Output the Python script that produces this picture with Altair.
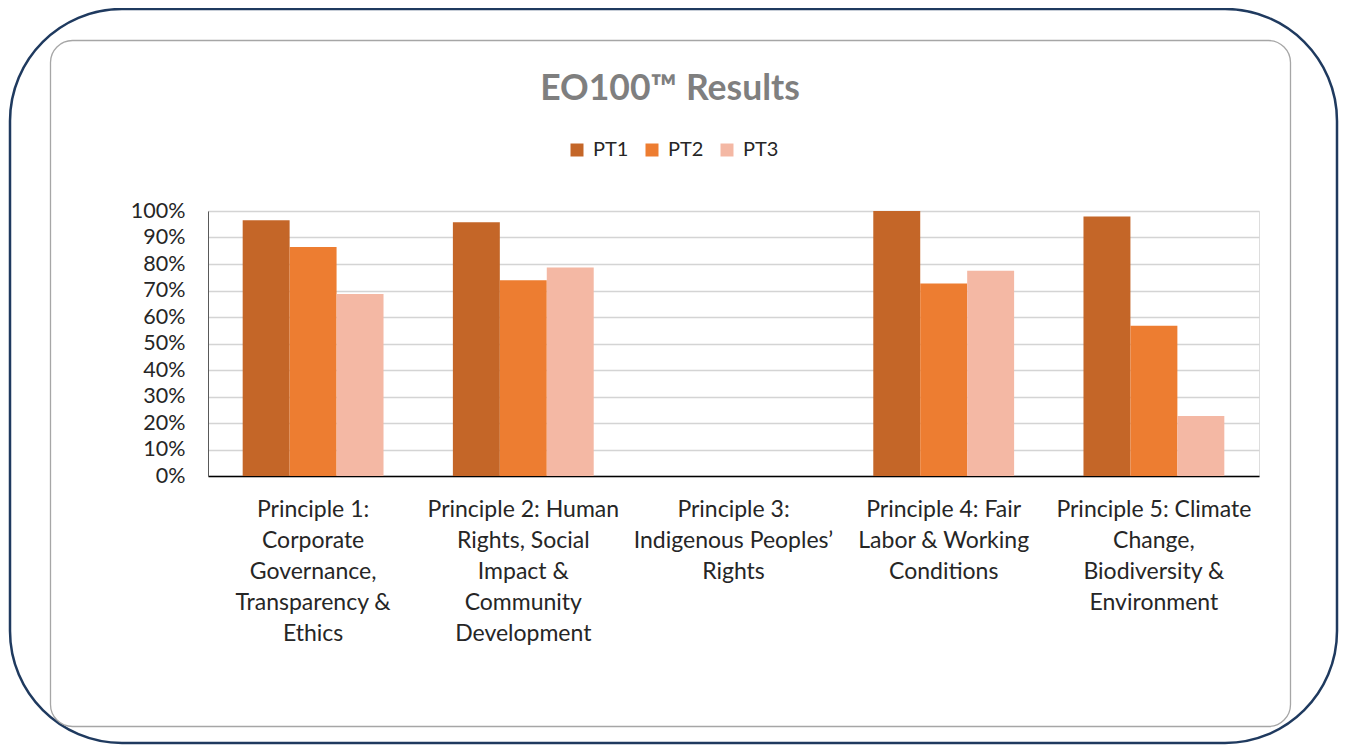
import altair as alt
import pandas as pd

TITLE = "EO100™ Results"
categories = [
    "Principle 1:\nCorporate\nGovernance,\nTransparency &\nEthics",
    "Principle 2: Human\nRights, Social\nImpact &\nCommunity\nDevelopment",
    "Principle 3:\nIndigenous Peoples’\nRights",
    "Principle 4: Fair\nLabor & Working\nConditions",
    "Principle 5: Climate\nChange,\nBiodiversity &\nEnvironment",
]
series = ["PT1", "PT2", "PT3"]
pt1 = [0.965, 0.958, 0.0, 1.000, 0.979]
pt2 = [0.864, 0.739, 0.0, 0.726, 0.567]
pt3 = [0.687, 0.787, 0.0, 0.775, 0.226]
colors = ["#C46628", "#ED7D31", "#F4B8A4"]
y_ticks = [0, 0.1, 0.2, 0.3, 0.4, 0.5, 0.6, 0.7, 0.8, 0.9, 1.0]

rows = []
for s, vals in zip(series, [pt1, pt2, pt3]):
    for c, v in zip(categories, vals):
        rows.append({"category": c, "series": s, "value": v})
df = pd.DataFrame(rows)

FONT = "Lato"

one = pd.DataFrame({"k": [0]})

outer = alt.Chart(one).mark_rect(
    filled=False, stroke="#1F3A5F", strokeWidth=2.5, cornerRadius=112
).encode(x=alt.value(-198), x2=alt.value(1129), y=alt.value(-202), y2=alt.value(532))

inner = alt.Chart(one).mark_rect(
    filled=False, stroke="#A6A6A6", strokeWidth=1.3, cornerRadius=22
).encode(x=alt.value(-157.5), x2=alt.value(1082.5), y=alt.value(-170.5), y2=alt.value(515.5))

title = alt.Chart(one).mark_text(
    font=FONT, fontSize=35.5, fontWeight="bold", color="#7F7F7F",
    align="center", baseline="alphabetic"
).encode(x=alt.value(462), y=alt.value(-111), text=alt.value(TITLE))

bars = alt.Chart(df).mark_bar().encode(
    x=alt.X(
        "category:N",
        sort=categories,
        scale=alt.Scale(domain=categories, paddingInner=0.33, paddingOuter=0.165),
        axis=alt.Axis(
            title=None, labelAngle=0, labelExpr="split(datum.label, '\\n')",
            labelFont=FONT, labelFontSize=23, labelColor="#262626",
            labelLineHeight=31, labelPadding=22, labelLimit=0,
            ticks=False, tickSize=0, domainColor="#000000", domainWidth=1.5,
            grid=False,
        ),
    ),
    xOffset=alt.XOffset("series:N", sort=series, scale=alt.Scale(paddingInner=0, paddingOuter=0)),
    y=alt.Y(
        "value:Q",
        scale=alt.Scale(domain=[0, 1], nice=False),
        axis=alt.Axis(
            title=None, values=y_ticks, format=".0%",
            labelFont=FONT, labelFontSize=21.5, labelColor="#262626", labelPadding=23,
            ticks=False, tickSize=0, domainColor="#595959", domainWidth=1,
            grid=True, gridColor="#D4D4D4", gridWidth=1.5,
        ),
    ),
    color=alt.Color(
        "series:N",
        sort=series,
        scale=alt.Scale(domain=series, range=colors),
        legend=alt.Legend(
            title=None, orient="none", legendX=359, legendY=-71, direction="horizontal",
            symbolType="square", symbolSize=169, symbolStrokeWidth=0,
            labelFont=FONT, labelFontSize=20, labelColor="#262626",
            labelOffset=6, columnPadding=13,
        ),
    ),
)

chart = alt.layer(outer, inner, title, bars).properties(
    width=1051, height=265,
    autosize=alt.AutoSizeParams(type="none"),
    padding={"left": 200, "top": 203, "right": 80, "bottom": 270},
).configure_view(stroke=None).configure(background="white")

chart.save("out.html", embed_options={"renderer": "svg", "actions": False})
